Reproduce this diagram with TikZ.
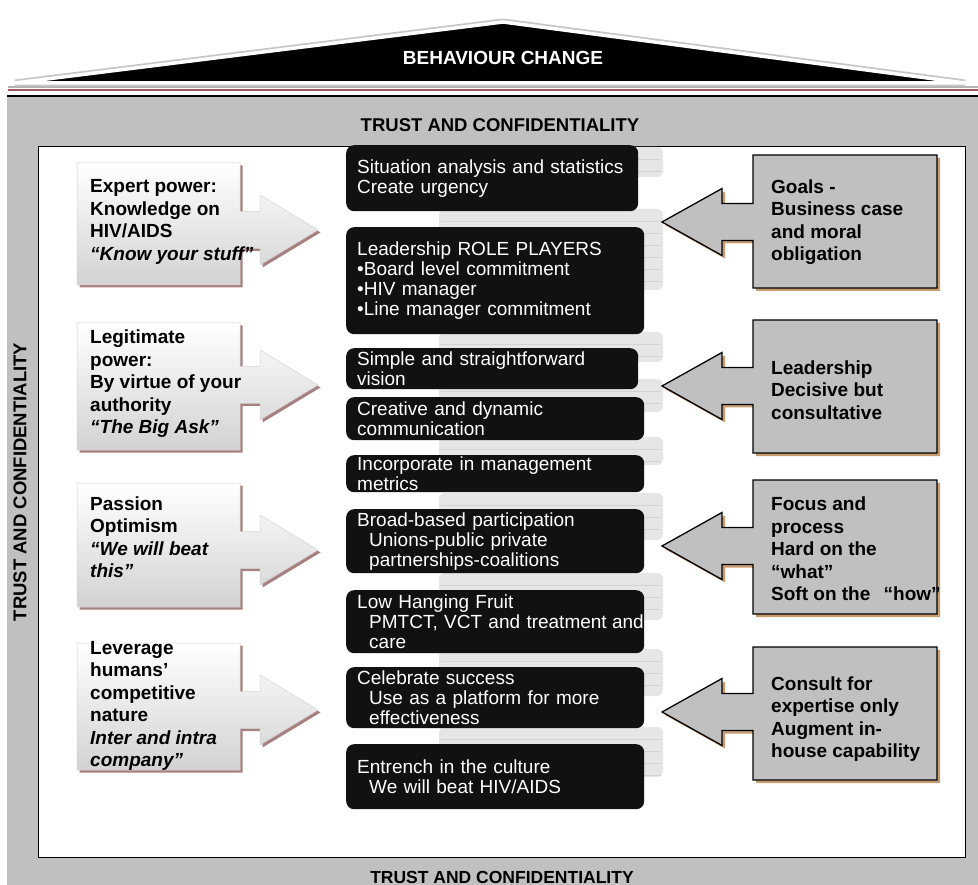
\documentclass[tikz,border=0pt]{standalone}
\usepackage{fontspec}
\setmainfont{Liberation Sans}
\usetikzlibrary{shadows}

\definecolor{housegrey}{HTML}{C0C0C0}
\definecolor{boxblack}{HTML}{111111}
\definecolor{tabgrey}{HTML}{E6E6E6}
\definecolor{tabline}{HTML}{D2D2D2}
\definecolor{pinkshadow}{HTML}{A98080}
\definecolor{tanshadow}{HTML}{C99C70}
\definecolor{roofline}{HTML}{9E5A5A}

\newcommand{\boxfont}{\fontsize{19}{20}\selectfont}
\newcommand{\armfont}{\fontsize{19}{22.5}\selectfont\bfseries}

\tikzset{
  stepbox/.style={fill=boxblack, rounded corners=8pt, text=white, align=left,
    anchor=north west, inner xsep=11pt, inner ysep=1pt, font=\boxfont},
  powerarrow/.style={draw=gray!35, line width=0.5pt, shading angle=45,
    top color=white, bottom color=gray!35,
    drop shadow={shadow xshift=2.5pt, shadow yshift=-2.5pt, fill=pinkshadow, opacity=1}},
  leadarrow/.style={draw=black, line width=1.3pt, fill=housegrey,
    drop shadow={shadow xshift=3pt, shadow yshift=-3pt, fill=tanshadow, opacity=1}},
  armtext/.style={anchor=west, align=left, inner sep=0pt, font=\armfont},
  trusttext/.style={font=\fontsize{18.5}{20}\selectfont\bfseries, inner sep=0pt}
}

\begin{document}
\begin{tikzpicture}[x=1pt, y=-1pt]
    \useasboundingbox (0,0) rectangle (978,885);

    % House body
    \fill [housegrey] (7,96) rectangle (978,885);
    \draw [line width=1.2pt] (7,96) -- (978,96);
    \draw [gray!60, line width=1.5pt] (8,87) -- (978,87);
    \draw [roofline, line width=2pt] (8,90) -- (978,90);
    \draw [fill=white, line width=0.8pt] (38,146) rectangle (965,857);

    % Roof
    \path [preaction={draw=gray!45, line width=7pt}, draw=white, line width=3.5pt, fill=black]
        (15,83) -- (503,22) -- (965,83) -- cycle;
    \node [font=\fontsize{19}{20}\selectfont\bfseries, text=white] (change) at (503,58) {BEHAVIOUR CHANGE};

    % Trust labels
    \node [trusttext] (trusttop) at (500,125) {TRUST AND CONFIDENTIALITY};
    \node [trusttext, font=\fontsize{17.5}{20}\selectfont\bfseries] (trustbottom) at (502,877) {TRUST AND CONFIDENTIALITY};
    \node [trusttext, rotate=90] (trustleft) at (20,482) {TRUST AND CONFIDENTIALITY};

    % Grey tabs behind the steps
    \foreach \ya/\yb in {147/177, 209/290, 332/362, 379/412, 437/465, 493/540, 573/620, 649/696, 727/777} {
        \fill [tabgrey, rounded corners=6pt] (439,\ya) rectangle (663,\yb);
        \pgfmathtruncatemacro\nlines{(\yb-\ya)/12}
        \foreach \k in {1,...,\nlines}
            \draw [tabline, line width=0.6pt] (441,{\ya+12*\k}) -- (661,{\ya+12*\k});
    }

    % Steps
    \node [stepbox, text width=270pt, minimum height=66pt] (situation) at (346,145)
        {Situation analysis and statistics\\Create urgency};
    \node [stepbox, text width=276pt, minimum height=107pt] (roles) at (346,227)
        {Leadership ROLE PLAYERS\\•Board level commitment\\•HIV manager\\•Line manager commitment};
    \node [stepbox, text width=270pt, minimum height=41pt] (vision) at (346,348)
        {Simple and straightforward\\vision};
    \node [stepbox, text width=276pt, minimum height=43pt] (communication) at (346,397)
        {Creative and dynamic\\communication};
    \node [stepbox, text width=276pt, minimum height=37pt] (metrics) at (346,455)
        {Incorporate in management\\metrics};
    \node [stepbox, text width=276pt, minimum height=64pt] (participation) at (346,509)
        {Broad-based participation\\\hspace*{12pt}Unions-public private\\\hspace*{12pt}partnerships-coalitions};
    \node [stepbox, text width=276pt, minimum height=63pt] (fruit) at (346,590)
        {Low Hanging Fruit\\\hspace*{12pt}\mbox{PMTCT, VCT and treatment\hspace{-1pt} and}\\\hspace*{12pt}care};
    \node [stepbox, text width=276pt, minimum height=61pt] (success) at (346,667)
        {Celebrate success\\\hspace*{12pt}Use as a platform for more\\\hspace*{12pt}effectiveness};
    \node [stepbox, text width=276pt, minimum height=65pt] (culture) at (346,744)
        {Entrench in the culture\\\hspace*{12pt}We will beat HIV/AIDS};

    % Left arrows (power)
    \path [powerarrow] (77,163) -- (240,163) -- (240,211.5) -- (260,211.5) -- (260,195) -- (318,230)
        -- (260,265) -- (260,248.5) -- (240,248.5) -- (240,285) -- (77,285) -- cycle;
    \path [powerarrow] (77,323) -- (240,323) -- (240,366.5) -- (260,366.5) -- (260,350) -- (318,385)
        -- (260,420) -- (260,403.5) -- (240,403.5) -- (240,450) -- (77,450) -- cycle;
    \path [powerarrow] (77,483) -- (240,483) -- (240,531.5) -- (260,531.5) -- (260,515) -- (318,550)
        -- (260,585) -- (260,568.5) -- (240,568.5) -- (240,607) -- (77,607) -- cycle;
    \path [powerarrow] (77,643) -- (240,643) -- (240,691.5) -- (260,691.5) -- (260,675) -- (318,710)
        -- (260,745) -- (260,728.5) -- (240,728.5) -- (240,770) -- (77,770) -- cycle;

    \node [armtext] (expert) at (90,222) {Expert power:\\Knowledge on\\HIV/AIDS\\\textit{“Know your stuff”}};
    \node [armtext] (legitimate) at (90,384) {Legitimate\\power:\\By virtue of your\\authority\\\textit{“The Big Ask”}};
    \node [armtext] (passion) at (90,537) {Passion\\Optimism\\\textit{“We will beat}\\\textit{this”}};
    \node [armtext] (leverage) at (90,706) {Leverage\\humans’\\competitive\\nature\\\textit{Inter and intra}\\\textit{company”}};

    % Right arrows (leadership)
    \path [leadarrow] (753,155) -- (937,155) -- (937,288) -- (753,288) -- (753,240.5) -- (722,240.5)
        -- (722,255.5) -- (662,222) -- (722,188.5) -- (722,203.5) -- (753,203.5) -- cycle;
    \path [leadarrow] (753,320) -- (937,320) -- (937,453) -- (753,453) -- (753,404.5) -- (722,404.5)
        -- (722,419.5) -- (662,386) -- (722,352.5) -- (722,367.5) -- (753,367.5) -- cycle;
    \path [leadarrow] (753,480) -- (937,480) -- (937,614) -- (753,614) -- (753,564.5) -- (722,564.5)
        -- (722,579.5) -- (662,546) -- (722,512.5) -- (722,527.5) -- (753,527.5) -- cycle;
    \path [leadarrow] (753,647) -- (937,647) -- (937,780) -- (753,780) -- (753,730.5) -- (722,730.5)
        -- (722,745.5) -- (662,712) -- (722,678.5) -- (722,693.5) -- (753,693.5) -- cycle;

    \node [armtext] (goals) at (771,222) {Goals -\\Business case\\and moral\\obligation};
    \node [armtext] (decisive) at (771,390) {Leadership\\Decisive but\\consultative};
    \node [armtext] (focus) at (771,549) {Focus and\\process\\Hard on the\\“what”\\Soft on the\hspace{8pt} “how”};
    \node [armtext] (consult) at (771,719) {Consult for\\expertise only\\Augment in-\\house capability};
\end{tikzpicture}
\end{document}
